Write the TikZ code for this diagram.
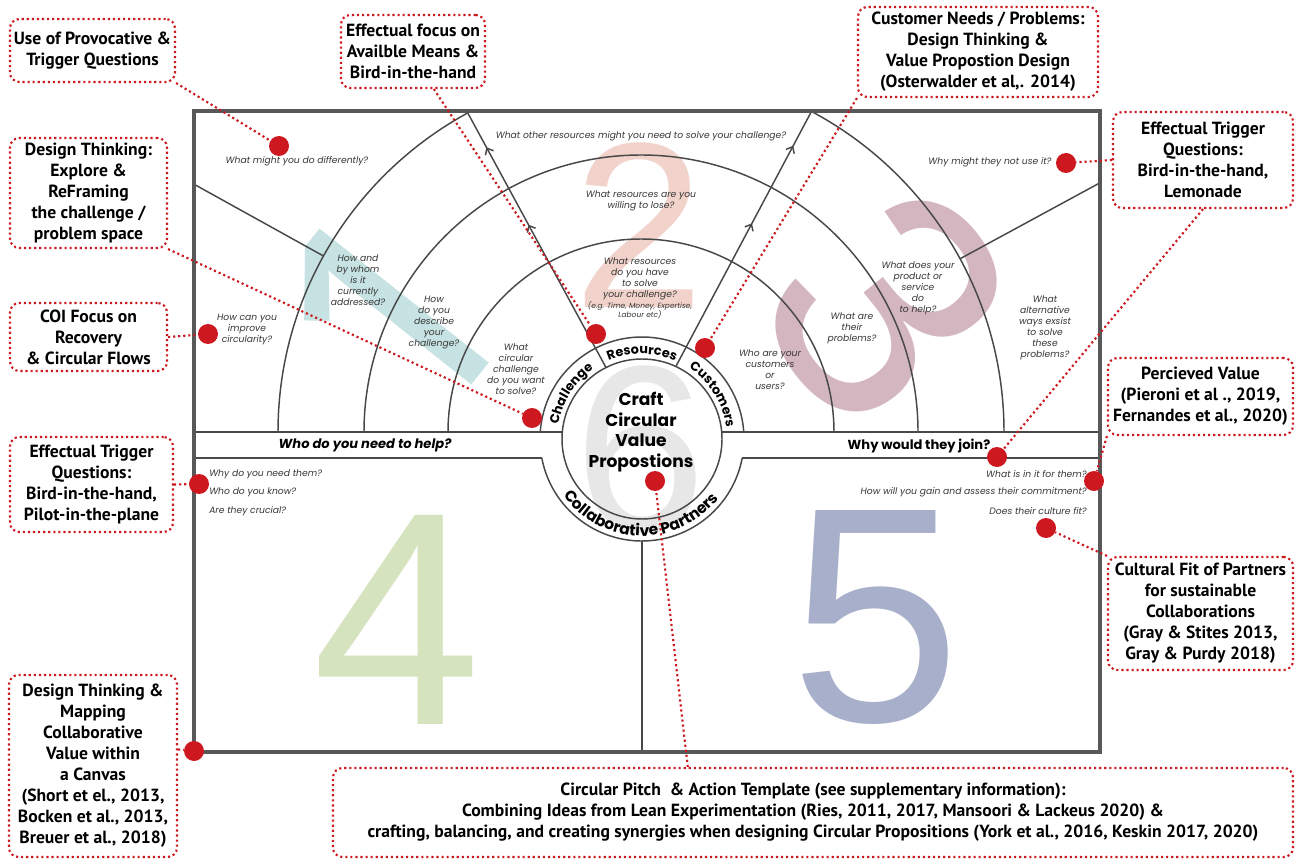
\documentclass[tikz,border=0pt]{standalone}
\usepackage{fontspec}
\setmainfont{PT Sans}
\newfontfamily\canvasfont{Poppins}
\newfontfamily\digitfont{Liberation Sans}
\newfontfamily\onefont{Open Sans}[FakeBold=1.5]
\usetikzlibrary{calc,arrows.meta,decorations.markings,decorations.text}
\definecolor{pinred}{RGB}{204,24,30}
\definecolor{linegray}{RGB}{72,72,72}
\definecolor{framegray}{RGB}{88,88,88}
\definecolor{askgray}{RGB}{55,55,55}
\definecolor{onecol}{RGB}{199,226,226}
\definecolor{twocol}{RGB}{241,211,203}
\definecolor{threecol}{RGB}{212,182,193}
\definecolor{fourcol}{RGB}{214,227,191}
\definecolor{fivecol}{RGB}{168,175,202}
\definecolor{sixcol}{RGB}{231,231,231}
\newlength\px
\setlength\px{0.75pt}
\newcommand\askfont{\canvasfont\itshape\fontsize{6.9}{8.25}\selectfont}
\newcommand\smallaskfont{\canvasfont\itshape\fontsize{5.6}{6.9}\selectfont}
\newcommand\bandfont{\canvasfont\bfseries\fontsize{9.8}{11}\selectfont}
\newcommand\ringfont{\canvasfont\bfseries\fontsize{9.6}{10}\selectfont}
\newcommand\partnerfont{\canvasfont\bfseries\fontsize{11.6}{12}\selectfont}
\newcommand\corefont{\canvasfont\bfseries\fontsize{12.8}{15.4}\selectfont}
\newcommand\notefont{\bfseries\fontsize{13.2}{15.75}\selectfont}
\tikzset{>=Straight Barb, % open barbs on the spokes
  canvasline/.style={draw=linegray, line width=1.1pt},
  frame/.style={draw=framegray, line width=2.4pt},
  ask/.style={font=\askfont, text=askgray, align=center, inner sep=0pt},
  bandlabel/.style={font=\bandfont, inner sep=0pt},
  corelabel/.style={font=\corefont, align=center, inner sep=0pt},
  bigdigit/.style={font=\digitfont\fontsize{#1}{#1}\selectfont, inner sep=0pt},
  pin/.style={circle, fill=pinred, minimum size=20\px, inner sep=0pt},
  link/.style={draw=pinred, line width=1.6pt, dash pattern=on 1.6pt off 2.2pt},
  note/.style={draw=pinred, line width=1.6pt, dash pattern=on 1.6pt off 2.2pt,
    rounded corners=7pt, align=center, font=\notefont, inner sep=0pt},
  spoke/.style={canvasline, postaction={decorate, decoration={markings,
      mark=at position 0.56 with {\arrow{Straight Barb[length=4pt,width=7pt]}},
      mark=at position 0.865 with {\arrow{Straight Barb[length=4pt,width=7pt]}}}}},
  ringlabel/.style={decorate, decoration={text along path, text align=center,
      text={|\ringfont|#1}}},
}

\begin{document}
\begin{tikzpicture}[x=0.75pt, y=-0.75pt]
  \useasboundingbox (0,0) rectangle (1296,859);
  \fill[white] (0,0) rectangle (1296,859);
  \coordinate (C) at (641,432);
  \coordinate (O) at (642,439);
  \coordinate (nw) at (194,111);
  \coordinate (se) at (1100,752);

  % big section numbers
  \node[inner sep=0pt, font=\onefont\fontsize{222}{222}\selectfont, text=onecol, rotate=51.6] (one) at (391,312) {1};
  \node[bigdigit=177, text=twocol] (two) at (639,225) {2};
  \node[bigdigit=244, text=threecol, rotate=-51] (three) at (887,305) {3};
  \node[bigdigit=228, text=fourcol] (four) at (397,620) {4};
  \node[bigdigit=230, text=fivecol] (five) at (876,618) {5};
  \node[bigdigit=178, text=sixcol] (six) at (640,450) {6};

  \begin{scope}
    \clip (nw) rectangle (se);
    \foreach \r in {193,277,363}
      \draw[canvasline] ($(C)+(180:\r)$) arc[start angle=180, end angle=360, radius=\r];
    \foreach \a in {209,331.5}
      \draw[canvasline] ($(C)+(\a:363)$) -- ($(C)+(\a:540)$);
    \draw[spoke] ($(C)+(241.5:74)$) -- ($(C)+(241.5:363)$);
    \draw[spoke] ($(C)+(298:75)$) -- ($(C)+(298:363)$);
  \end{scope}
  \draw[canvasline] (O) circle[radius=80];
  \draw[canvasline] ($(O)+(183.9:102)$) arc[start angle=183.9, end angle=356.1, radius=102];
  \draw[canvasline] ($(O)+(169.3:102)$) arc[start angle=169.3, end angle=10.7, radius=102];
  \draw[canvasline] (194,432) -- (562,432) (722,432) -- (1100,432);
  \draw[canvasline] (194,458) -- (542,458) (742,458) -- (1100,458);
  \draw[canvasline] ($(O)+(90:102)$) -- (642,752);
  \draw[frame] (nw) rectangle (se);

  \path[ringlabel=Challenge] ($(O)+(180:85)$) arc[start angle=180, end angle=245, radius=85];
  \path[ringlabel=Resources] ($(O)+(240:85)$) arc[start angle=240, end angle=300, radius=85];
  \path[ringlabel=Customers] ($(O)+(297:85)$) arc[start angle=297, end angle=359, radius=85];
  \path[decorate, decoration={text along path, text align=center,
      text={|\partnerfont|Collaborative Partners}}]
    ($(O)+(156:97)$) arc[start angle=156, end angle=26, radius=97];
  \node[corelabel] (core) at (641,432) {Craft\\Circular\\Value\\Propostions};
  \node[bandlabel, font=\bandfont\itshape] (helpband) at (365,445) {Who do you need to help?};
  \node[bandlabel] (joinband) at (919,446) {Why would they join?};

  \node[ask] (askdiff) at (297,161) {What might you do differently?};
  \node[ask] (askcirc) at (247,329) {How can you\\improve\\circularity?};
  \node[ask] (askwhom) at (358,280) {How and\\by whom\\is it\\currently\\addressed?};
  \node[ask] (askdesc) at (434,323) {How\\do you\\describe\\your\\challenge?};
  \node[ask] (asksolve) at (516,369) {What\\circular\\challenge\\do you want\\to solve?};
  \node[ask] (askother) at (641,136) {What other resources might you need to solve your challenge?};
  \node[ask] (asklose) at (641,201) {What resources are you\\willing to lose?};
  \node[ask] (askhave) at (640,279) {What resources\\do you have\\to solve\\your challenge?};
  \node[ask, font=\smallaskfont] (askeg) at (640,310) {(e.g. Time, Money, Expertise,\\Labour etc)};
  \node[ask] (askusers) at (770,370) {Who are your\\customers\\or\\users?};
  \node[ask] (askprob) at (852,328) {What are\\their\\problems?};
  \node[ask] (askhelp) at (918,288) {What does your\\product or\\service\\do\\to help?};
  \node[ask] (askalt) at (1045,328) {What\\alternative\\ways exsist\\to solve\\these\\problems?};
  \node[ask] (asknot) at (990,162) {Why might they not use it?};
  \node[ask, anchor=west] (askneed) at (209,474) {Why do you need them?};
  \node[ask, anchor=west] (askknow) at (209,492) {Who do you know?};
  \node[ask, anchor=west] (askcruc) at (209,511) {Are they crucial?};
  \node[ask, anchor=east] (askin) at (1087,474) {What is in it for them?};
  \node[ask, anchor=east] (askgain) at (1087,492) {How will you gain and assess their commitment?};
  \node[ask, anchor=east] (askfit) at (1087,511) {Does their culture fit?};

  \node[note, minimum width=165\px, minimum height=63\px] (provoke) at (92.5,50.5)
    {Use of Provocative \&\\Trigger Questions};
  \node[note, minimum width=144\px, minimum height=73\px] (means) at (413,51.5)
    {Effectual focus on\\Availble Means \&\\Bird-in-the-hand};
  \node[note, minimum width=240\px, minimum height=90\px] (needs) at (978,52)
    {Customer Needs / Problems:\\Design Thinking \&\\Value Propostion Design\\(Osterwalder et al,. 2014)};
  \node[note, minimum width=180\px, minimum height=96\px] (lemonade) at (1203,160)
    {Effectual Trigger\\Questions:\\Bird-in-the-hand,\\Lemonade};
  \node[note, minimum width=157\px, minimum height=110\px] (reframe) at (88.5,193)
    {Design Thinking:\\Explore \&\\ReFraming\\the challenge /\\problem space};
  \node[note, minimum width=157\px, minimum height=68\px] (coi) at (88.5,337)
    {COI Focus on\\Recovery\\\& Circular Flows};
  \node[note, minimum width=163\px, minimum height=95\px] (pilot) at (91.5,484.5)
    {Effectual Trigger\\Questions:\\Bird-in-the-hand,\\Pilot-in-the-plane};
  \node[note, minimum width=168\px, minimum height=182\px] (mapping) at (93,766)
    {Design Thinking \&\\Mapping\\Collaborative\\Value within\\a Canvas\\(Short et el., 2013,\\Bocken et al., 2013,\\Breuer et al., 2018)};
  \node[note, minimum width=960\px, minimum height=89\px] (pitch) at (813,812.5)
    {Circular Pitch~ \& Action Template (see supplementary information):\\
     Combining Ideas from Lean Experimentation (Ries, 2011, 2017, Mansoori \& Lackeus 2020) \&\\
     crafting, balancing, and creating synergies when designing Circular Propositions (York et al., 2016, Keskin 2017, 2020)};
  \node[note, minimum width=185\px, minimum height=77\px] (perceived) at (1200.5,396.5)
    {Percieved Value\\(Pieroni et al ., 2019,\\Fernandes et al., 2020)};
  \node[note, minimum width=185\px, minimum height=113\px] (culture) at (1200.5,613.5)
    {Cultural Fit of Partners\\for sustainable\\Collaborations\\(Gray \& Stites 2013,\\Gray \& Purdy 2018)};

  \node[pin] (pdiff) at (279,146) {};
  \node[pin] (pcirc) at (208,334) {};
  \node[pin] (pres) at (596,334) {};
  \node[pin] (pchal) at (532,418) {};
  \node[pin] (pcust) at (705,348) {};
  \node[pin] (pnot) at (1066,163) {};
  \node[pin] (pjoin) at (997,457) {};
  \node[pin] (pin) at (1094,481) {};
  \node[pin] (pfit) at (1046,528) {};
  \node[pin] (pcore) at (655,481) {};
  \node[pin] (pneed) at (199,484) {};
  \node[pin] (pcorner) at (194,751) {};

  \draw[link] (provoke.south east) -- (pdiff);
  \draw[link] (means.-61) -- (pres);
  \draw[link] (needs.south west) -- (pcust);
  \draw[link] (lemonade.west) -- (pnot);
  \draw[link] (lemonade.south) -- (pjoin);
  \draw[link] (reframe.south east) -- (pchal);
  \draw[link] (coi.east) -- (pcirc);
  \draw[link] (pilot.east) -- (pneed);
  \draw[link] (mapping.11) -- (pcorner);
  \draw[link] (pitch.160.7) -- (pcore);
  \draw[link] (perceived.south west) -- (pin);
  \draw[link] (culture.north west) -- (pfit);
\end{tikzpicture}
\end{document}
